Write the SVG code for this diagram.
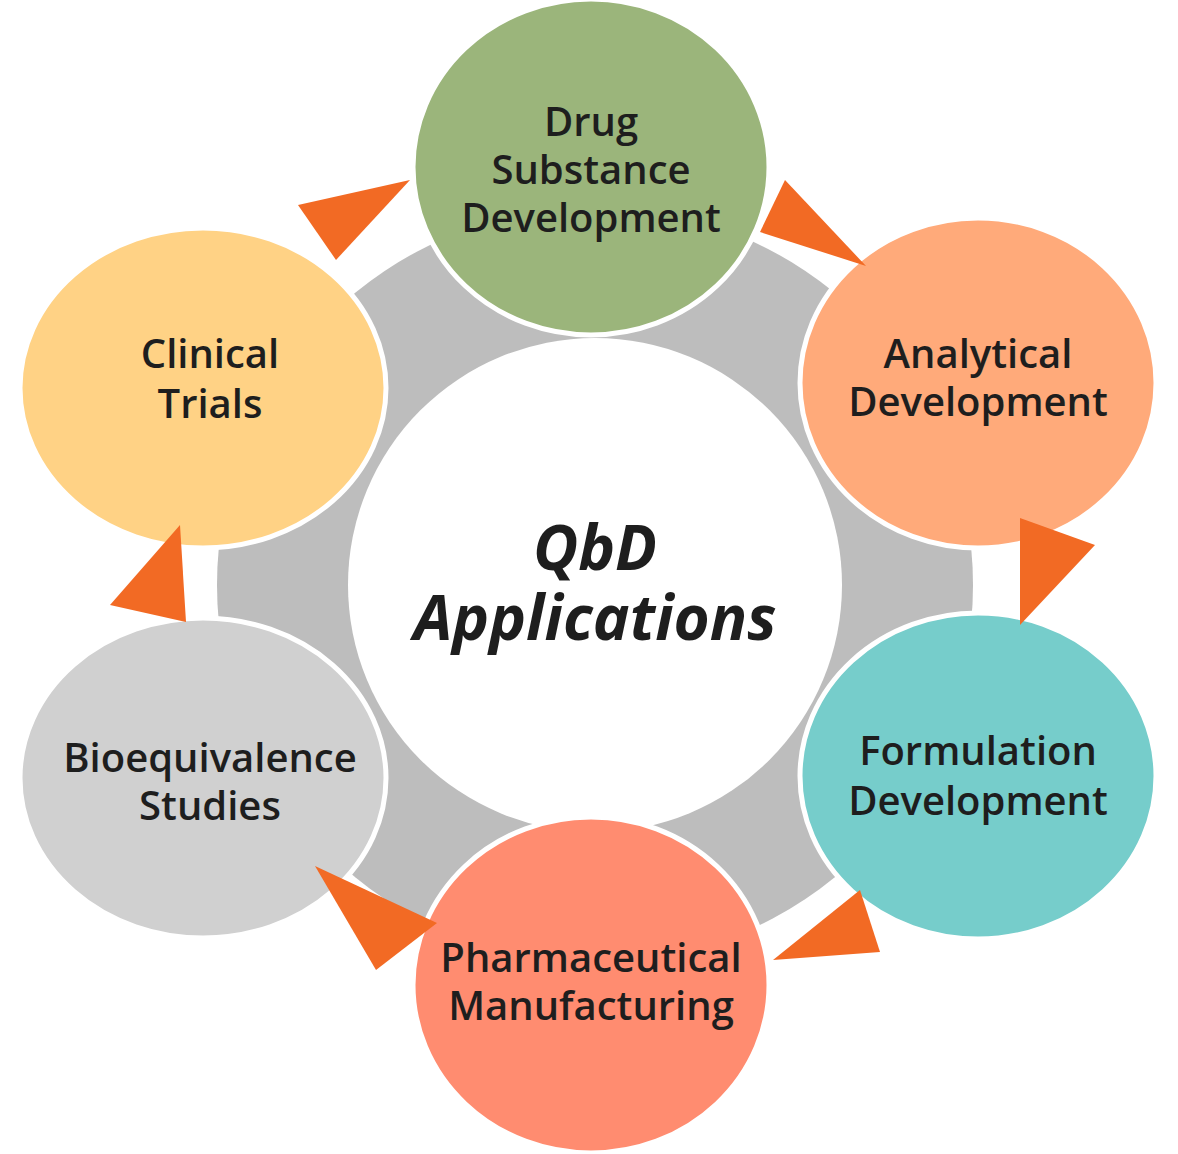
<svg xmlns="http://www.w3.org/2000/svg" width="1178" height="1154" viewBox="0 0 1178 1154">
<style>
.n{stroke:#fff;stroke-width:5}
.t{font-family:"Open Sans","Liberation Sans",sans-serif;font-weight:600;font-size:40px;fill:#1e1e1e;text-anchor:middle}
.a{fill:#F26A24}
</style>
<rect width="1178" height="1154" fill="#fff"/>
<circle cx="595" cy="585" r="378" fill="#BDBDBD"/>
<g id="center"><circle cx="595" cy="585" r="247" fill="#fff"/>
<text x="595" y="570" font-family="Open Sans,Liberation Sans,sans-serif" font-weight="700" font-style="italic" font-size="62" fill="#1e1e1e" text-anchor="middle">QbD</text>
<text x="595" y="640" font-family="Open Sans,Liberation Sans,sans-serif" font-weight="700" font-style="italic" font-size="62" fill="#1e1e1e" text-anchor="middle">Applications</text></g>
<g id="drug"><ellipse class="n" cx="591" cy="167" rx="178" ry="168" fill="#9BB57B"/>
<text class="t" x="591" y="136">Drug</text><text class="t" x="591" y="184">Substance</text><text class="t" x="591" y="232">Development</text></g>
<g id="analytical"><ellipse class="n" cx="978" cy="383" rx="178" ry="165" fill="#FFAA7A"/>
<text class="t" x="978" y="368">Analytical</text><text class="t" x="978" y="416">Development</text></g>
<g id="formulation"><ellipse class="n" cx="978" cy="776" rx="178" ry="163" fill="#76CDCB"/>
<text class="t" x="978" y="765">Formulation</text><text class="t" x="978" y="815">Development</text></g>
<g id="pharma"><ellipse class="n" cx="591" cy="985" rx="178" ry="168" fill="#FF8C70"/>
<text class="t" x="591" y="972">Pharmaceutical</text><text class="t" x="591" y="1020">Manufacturing</text></g>
<g id="bio"><ellipse class="n" cx="203" cy="778" rx="183" ry="160" fill="#D0D0D0"/>
<text class="t" x="210" y="772">Bioequivalence</text><text class="t" x="210" y="820">Studies</text></g>
<g id="clinical"><ellipse class="n" cx="203" cy="388" rx="183" ry="160" fill="#FFD285"/>
<text class="t" x="210" y="368">Clinical</text><text class="t" x="210" y="418">Trials</text></g>
<g id="connectors">
<polygon class="a" points="298,205 410,180 336,260"/>
<polygon class="a" points="785,180 866,266 760,232"/>
<polygon class="a" points="1020,518 1095,545 1020,625"/>
<polygon class="a" points="860,890 880,952 773,960"/>
<polygon class="a" points="437,923 376,970 315,866"/>
<polygon class="a" points="180,525 110,605 186,622"/>
</g>
</svg>
